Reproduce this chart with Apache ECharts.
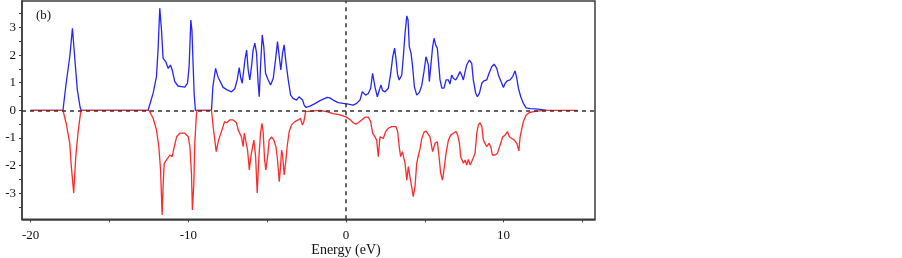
<!DOCTYPE html>
<html>
<head>
<meta charset="utf-8">
<script src="https://cdn.jsdelivr.net/npm/echarts@6/dist/echarts.min.js"></script>
<style>
html,body{margin:0;padding:0;background:#fff;}
#chart{width:902px;height:258px;}
</style>
</head>
<body>
<div id="chart"></div>
<script>
// spin up DOS (blue)
var energyUp = [-20,-17.95,-17.75,-17.52,-17.35,-17.21,-17.04,-16.86,-16.8,-12.55,-12.23,-12.02,-11.92,-11.81,-11.7,-11.6,-11.43,-11.28,-11.13,-11.02,-10.86,-10.65,-10.43,-10.22,-10.05,-9.95,-9.84,-9.77,-9.69,-9.63,-9.55,-8.53,-8.44,-8.27,-8.11,-7.79,-7.54,-7.26,-7.05,-6.9,-6.77,-6.67,-6.58,-6.41,-6.3,-6.2,-6.1,-5.99,-5.89,-5.78,-5.67,-5.57,-5.5,-5.42,-5.31,-5.21,-5.1,-4.93,-4.78,-4.61,-4.47,-4.34,-4.23,-4.13,-4.02,-3.92,-3.81,-3.66,-3.51,-3.35,-3.13,-2.98,-2.86,-2.75,-2.65,-2.54,-2.29,-1.97,-1.65,-1.33,-1.19,-1.02,-0.81,-0.49,-0.17,0.15,0.46,0.68,0.89,1.04,1.14,1.25,1.42,1.57,1.69,1.72,1.84,1.99,2.11,2.22,2.33,2.48,2.69,2.84,2.97,3.09,3.17,3.28,3.38,3.54,3.64,3.75,3.86,3.94,4.02,4.13,4.23,4.34,4.49,4.66,4.81,4.95,5.08,5.14,5.23,5.29,5.4,5.5,5.59,5.69,5.8,5.88,5.97,6.08,6.22,6.35,6.5,6.6,6.71,6.81,6.96,7.09,7.24,7.34,7.45,7.56,7.66,7.83,7.92,7.98,8.08,8.23,8.34,8.47,8.62,8.76,8.93,9.08,9.25,9.4,9.57,9.67,9.84,9.99,10.1,10.24,10.41,10.58,10.73,10.84,10.94,11.09,11.26,11.43,11.68,12.0,12.32,12.74];
var dosUp = [0,0,0.98,1.94,2.97,1.94,0.74,0.1,0,0,0.62,1.22,2.18,3.7,2.9,1.88,1.76,1.52,1.64,1.46,1.04,0.88,0.86,0.84,0.98,1.58,3.27,2.9,1.58,0.62,0,0,0.86,1.52,1.2,0.83,0.74,0.67,0.78,1.1,1.55,1.16,0.98,1.82,2.18,1.46,1.1,1.58,2.18,2.43,2.07,0.98,0.49,1.58,2.73,2.3,1.34,1.1,0.92,1.16,1.82,2.49,1.94,1.46,2.07,2.37,1.76,1.1,0.55,0.43,0.37,0.49,0.55,0.37,0.19,0.11,0.15,0.24,0.35,0.43,0.47,0.45,0.37,0.28,0.25,0.22,0.19,0.25,0.37,0.67,0.74,0.55,0.61,0.8,1.34,1.4,0.86,0.49,0.55,0.92,0.71,0.67,0.8,1.34,1.94,2.25,1.88,1.28,1.1,1.28,1.94,2.79,3.42,3.27,2.3,2.07,1.58,0.86,0.55,0.65,0.9,1.4,1.94,1.95,1.64,1.04,1.7,2.3,2.61,2.37,2.25,1.7,1.1,0.8,0.8,1.1,1.1,0.95,1.28,1.16,1.1,1.22,1.4,1.28,1.1,1.4,1.64,1.82,1.88,1.7,1.1,0.62,0.49,0.62,0.98,1.07,1.1,1.34,1.58,1.67,1.52,1.28,1.04,0.83,0.98,1.07,1.1,1.22,1.43,1.16,0.8,0.49,0.25,0.09,0.06,0.05,0.03,0];

// spin down DOS (red)
var energyDn = [-20,-17.95,-17.75,-17.52,-17.42,-17.27,-17.14,-17.0,-16.86,-16.8,-12.5,-12.23,-12.02,-11.87,-11.76,-11.66,-11.6,-11.53,-11.38,-11.17,-11.02,-10.89,-10.74,-10.54,-10.22,-10.0,-9.9,-9.8,-9.74,-9.65,-9.59,-9.48,-9.45,-8.53,-8.4,-8.23,-8.08,-7.91,-7.7,-7.56,-7.38,-7.16,-6.95,-6.84,-6.74,-6.63,-6.52,-6.45,-6.35,-6.24,-6.13,-6.03,-5.92,-5.84,-5.73,-5.63,-5.52,-5.42,-5.33,-5.25,-5.16,-5.08,-4.97,-4.87,-4.72,-4.57,-4.44,-4.34,-4.23,-4.15,-4.08,-4.02,-3.92,-3.83,-3.73,-3.6,-3.45,-3.24,-3.03,-2.88,-2.77,-2.67,-2.56,-2.45,-1.65,-1.23,-0.81,-0.38,0,0.25,0.46,0.63,0.78,1.0,1.21,1.42,1.57,1.69,1.84,1.95,2.05,2.16,2.27,2.37,2.52,2.69,2.9,3.17,3.28,3.38,3.47,3.58,3.75,3.86,3.96,4.06,4.17,4.27,4.38,4.49,4.6,4.7,4.81,4.95,5.08,5.16,5.33,5.5,5.65,5.8,5.93,6.01,6.12,6.22,6.35,6.5,6.65,6.81,6.98,7.09,7.2,7.28,7.39,7.45,7.56,7.66,7.77,7.87,7.98,8.08,8.19,8.3,8.4,8.51,8.62,8.72,8.83,8.93,9.08,9.19,9.29,9.46,9.61,9.78,9.95,10.1,10.24,10.37,10.52,10.69,10.84,10.97,11.05,11.16,11.26,11.43,11.64,12.0,12.4,12.8,14.7];
var dosDn = [0,0,-0.47,-1.2,-2.04,-3.0,-1.68,-0.83,-0.2,0,0,-0.29,-0.71,-1.32,-2.16,-3.79,-2.77,-1.92,-1.8,-1.62,-1.68,-1.32,-0.96,-0.83,-0.83,-0.96,-1.32,-2.28,-3.61,-2.65,-1.2,-0.1,0,0,-0.71,-1.5,-1.08,-0.79,-0.41,-0.45,-0.35,-0.35,-0.45,-0.71,-0.68,-0.96,-1.32,-0.83,-0.9,-1.44,-2.16,-1.68,-1.32,-1.08,-1.68,-3.0,-1.68,-0.83,-0.47,-0.79,-1.8,-2.16,-1.68,-1.08,-0.96,-1.08,-1.32,-1.8,-2.59,-2.04,-1.44,-1.6,-2.34,-1.92,-1.32,-0.77,-0.53,-0.41,-0.35,-0.29,-0.53,-0.41,-0.05,0,0,-0.05,-0.12,-0.17,-0.24,-0.33,-0.45,-0.5,-0.45,-0.35,-0.25,-0.25,-0.41,-0.83,-0.96,-1.08,-1.68,-0.96,-0.9,-1.02,-0.77,-0.65,-0.59,-0.59,-0.77,-1.32,-1.68,-1.5,-1.92,-2.53,-2.04,-2.41,-2.77,-3.13,-2.77,-1.92,-1.62,-1.4,-1.02,-0.8,-0.75,-0.8,-0.96,-1.5,-1.2,-1.14,-1.8,-2.28,-2.53,-2.16,-1.56,-1.08,-0.9,-0.83,-0.77,-0.9,-1.2,-1.68,-1.68,-1.92,-1.8,-1.98,-1.78,-1.98,-1.86,-1.92,-1.56,-0.83,-0.53,-0.45,-0.59,-1.08,-1.14,-1.32,-1.2,-1.32,-1.62,-1.62,-1.56,-1.26,-0.96,-0.9,-0.77,-0.96,-1.02,-1.08,-1.2,-1.47,-0.96,-0.65,-0.41,-0.17,-0.08,-0.04,-0.01,0,0];

var xTicks = [-20,-15,-10,-5,0,5,10,15];
var xLabels = [-20,-10,0,10];
var yTicks = [-3.5,-3,-2.5,-2,-1.5,-1,-0.5,0,0.5,1,1.5,2,2.5,3,3.5];
var yLabels = [-3,-2,-1,0,1,2,3];

function pairs(xs, ys)
{
	var out = [];
	for (var i = 0; i < xs.length; i++) {
		out.push([xs[i], ys[i]]);
	}
	return out;
}

var frameColor = '#3c3c3c';
var serif = '"Liberation Serif","Times New Roman",serif';

var chart = echarts.init(document.getElementById('chart'));

var option = {
	animation: false,
	backgroundColor: '#fff',
	grid: {
		left: 22,
		right: 307,
		top: 1,
		bottom: 38.7,
		outerBoundsMode: 'none',
		containLabel: false,
		show: true,
		borderColor: frameColor,
		borderWidth: 1.5
	},
	graphic: [{
		type: 'text',
		left: 36,
		top: 9,
		style: { text: '(b)', font: '13px ' + serif, fill: '#111' }
	}, {
		// axis title, placed by hand so it stays inside the canvas
		type: 'text',
		x: 346,
		y: 250,
		style: {
			text: 'Energy (eV)',
			font: '14px ' + serif,
			fill: '#111',
			align: 'center',
			verticalAlign: 'middle'
		}
	}],
	xAxis: {
		type: 'value',
		min: -20.55,
		max: 15.8,
		splitLine: { show: false },
		axisLine: { show: true, onZero: false, lineStyle: { color: frameColor, width: 1.5 } },
		axisTick: { show: true, length: 3, customValues: xTicks, lineStyle: { color: frameColor } },
		axisLabel: { customValues: xLabels, margin: 10, fontFamily: serif, fontSize: 13, color: '#111' }
	},
	yAxis: {
		type: 'value',
		min: -3.95,
		max: 3.96,
		splitLine: { show: false },
		axisLine: { show: true, onZero: false, lineStyle: { color: frameColor, width: 1.5 } },
		axisTick: { show: true, length: 3, customValues: yTicks, lineStyle: { color: frameColor } },
		axisLabel: { customValues: yLabels, margin: 6, fontFamily: serif, fontSize: 13, color: '#111' }
	},
	series: [
		{
			// dashed zero lines
			type: 'line',
			data: [],
			z: 1,
			markLine: {
				silent: true,
				symbol: 'none',
				label: { show: false },
				lineStyle: { color: '#333', type: [4, 4], width: 1.5 },
				data: [{ yAxis: 0 }, { xAxis: 0 }]
			}
		},
		{
			name: 'up',
			type: 'line',
			data: pairs(energyUp, dosUp),
			showSymbol: false,
			z: 2,
			lineStyle: { color: '#2424ff', width: 1.3 }
		},
		{
			name: 'down',
			type: 'line',
			data: pairs(energyDn, dosDn),
			showSymbol: false,
			z: 3,
			lineStyle: { color: '#ff2a2a', width: 1.3 }
		}
	]
};

chart.setOption(option);
</script>
</body>
</html>
